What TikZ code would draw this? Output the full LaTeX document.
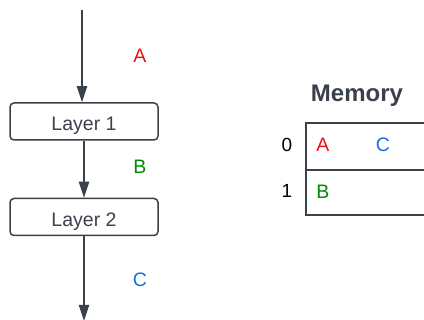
\documentclass[tikz,border=0pt]{standalone}
\usepackage{fontspec}
\setmainfont{Liberation Sans}
\usetikzlibrary{arrows.meta}
\definecolor{ink}{HTML}{3A414A}
\definecolor{cred}{HTML}{E81313}
\definecolor{cgreen}{HTML}{008A00}
\definecolor{cblue}{HTML}{1071E5}
\begin{document}
\begin{tikzpicture}[x=1pt,y=-1pt,
  layerbox/.style={draw=ink,line width=1.5pt,rounded corners=4pt,minimum width=148pt,minimum height=37pt,inner sep=0pt,text height=19pt,text depth=0pt,text=ink,font=\fontsize{19.5}{21}\selectfont},
  flow/.style={draw=ink,line width=2pt,-{Triangle[width=10pt,length=16pt]}},
  lbl/.style={font=\fontsize{19.5}{21}\selectfont,inner sep=0pt,anchor=base},
  idx/.style={font=\fontsize{19}{21}\selectfont,inner sep=0pt,anchor=base,text=black}]
\useasboundingbox (0,0) rectangle (424,320);
\node[layerbox] (l1) at (84,121.5) {Layer 1};
\node[layerbox] (l2) at (84,217) {Layer 2};
\coordinate (in) at (82,10);
\coordinate (out) at (84,321);
\draw[flow] (in) -- (in |- l1.north);
\draw[flow] (l1.south) -- (l2.north);
\draw[flow] (l2.south) -- (out);
\node[lbl,text=cred] (la) at (140,63) {A};
\node[lbl,text=cgreen] (lb) at (140,174) {B};
\node[lbl,text=cblue] (lc) at (140,287) {C};
\node[font=\bfseries\fontsize{24}{26}\selectfont,text=ink,inner sep=0pt,anchor=base] (mem) at (357,101.5) {Memory};
\draw[ink,line width=1.5pt] (426,123) -- (306,123) -- (306,215) -- (426,215);
\draw[ink,line width=1.5pt] (306,170) -- (426,170);
\node[idx] (i0) at (287,151.5) {0};
\node[idx] (i1) at (287,198) {1};
\node[lbl,text=cred] (ma) at (323,152) {A};
\node[lbl,text=cblue] (mc) at (383,152) {C};
\node[lbl,text=cgreen] (mb) at (323,199) {B};
\end{tikzpicture}
\end{document}
